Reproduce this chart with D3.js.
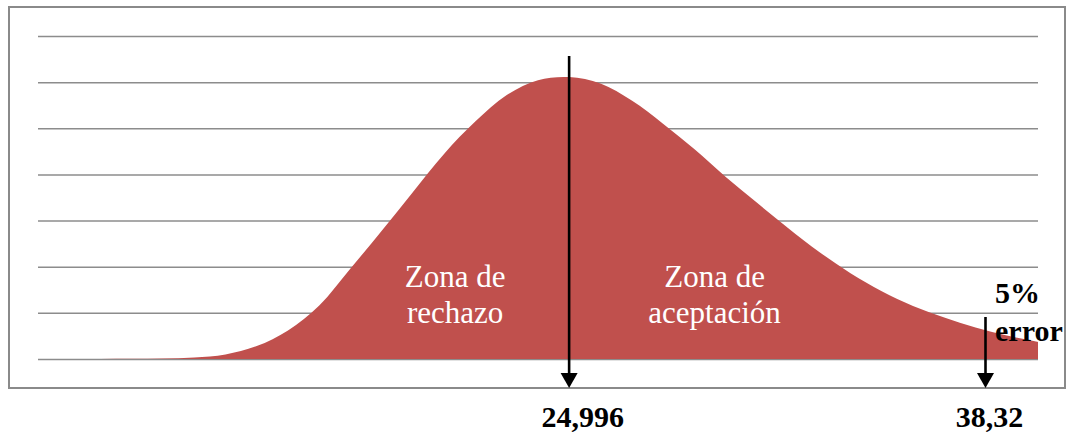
<!DOCTYPE html>
<html>
<head>
<meta charset="utf-8">
<script src="https://cdn.jsdelivr.net/npm/d3@7"></script>
<style>
  html, body { margin: 0; padding: 0; background: #ffffff; }
  svg { display: block; }
</style>
</head>
<body>
<svg id="chart" width="1068" height="434"></svg>
<script>
// Distribution of the test statistic (x) and its density, in gridline units
const xValues = [8, 9, 10, 11, 12, 13, 14, 15, 16, 17, 18, 19, 20, 21, 22, 23, 24,
                 25, 26, 27, 28, 29, 30, 31, 32, 33, 34, 35, 36, 37, 38, 39, 40];
const density = [0, 0, 0, 0.003, 0.01, 0.035, 0.1, 0.28, 0.62, 1.16, 1.96, 2.78, 3.62, 4.45, 5.15, 5.72, 6.04,
                 6.11, 5.97, 5.6, 5.1, 4.55, 3.95, 3.39, 2.84, 2.32, 1.86, 1.47, 1.15, 0.9, 0.68, 0.51, 0.37];
const gridValues = [0, 1, 2, 3, 4, 5, 6, 7];

// Marked values of the statistic
const markers = [
  { value: 24.996, label: "24,996" },
  { value: 38.32, label: "38,32" }
];
const zoneLabels = [
  { at: 21.35, lines: ["Zona de", "rechazo"] },
  { at: 29.65, lines: ["Zona de", "aceptación"] }
];
const errorLabel = ["5%", "error"];

const serif = "'Liberation Serif', 'Times New Roman', Tinos, 'DejaVu Serif', serif";

const svg = d3.select("#chart");
const plot = { left: 38, right: 1038, top: 36, bottom: 359 };

const x = d3.scaleLinear().domain([8, 40]).range([plot.left, plot.right]);
const y = d3.scaleLinear().domain([0, 7]).range([plot.bottom, plot.top]);

// Outer frame
svg.append("rect")
  .attr("x", 9).attr("y", 7)
  .attr("width", 1056).attr("height", 381)
  .attr("fill", "none")
  .attr("stroke", "#8a8a8a")
  .attr("stroke-width", 2);

// Horizontal gridlines
const grid = svg.append("g")
  .attr("transform", `translate(${plot.left},0)`)
  .call(d3.axisLeft(y).tickValues(gridValues).tickSize(-(plot.right - plot.left)).tickFormat(""));
grid.select(".domain").remove();
grid.selectAll(".tick line")
  .attr("stroke", "#8c8c8c")
  .attr("stroke-width", 1.5);

// Density area
const pts = xValues.map((v, i) => ({ x: v, y: density[i] }));
const area = d3.area()
  .x(d => x(d.x))
  .y0(y(0))
  .y1(d => Math.min(y(0), y(d.y)))
  .curve(d3.curveCatmullRom.alpha(0.5));

svg.append("path")
  .datum(pts)
  .attr("d", area)
  .attr("fill", "#C0504D");

// Zone labels
zoneLabels.forEach(z => {
  const t = svg.append("text")
    .attr("x", x(z.at))
    .attr("y", 287)
    .attr("text-anchor", "middle")
    .style("font-family", serif)
    .attr("font-size", 31)
    .attr("fill", "#ffffff");
  z.lines.forEach((line, i) => {
    t.append("tspan")
      .attr("x", x(z.at))
      .attr("dy", i === 0 ? 0 : 36)
      .text(line);
  });
});

// Arrows marking the statistic values
const arrowTops = [56, 317];
markers.forEach((m, i) => {
  const px = x(m.value);
  const tip = 388;
  svg.append("line")
    .attr("x1", px).attr("x2", px)
    .attr("y1", arrowTops[i]).attr("y2", tip - 10)
    .attr("stroke", "#000")
    .attr("stroke-width", 2.6);
  svg.append("path")
    .attr("d", `M${px - 8.5},${tip - 15} L${px + 8.5},${tip - 15} L${px},${tip} Z`)
    .attr("fill", "#000");
});

// Value labels below the frame
const valueOffsets = [13.5, 4];
markers.forEach((m, i) => {
  svg.append("text")
    .attr("x", x(m.value) + valueOffsets[i])
    .attr("y", 427)
    .attr("text-anchor", "middle")
    .style("font-family", serif)
    .attr("font-weight", "bold")
    .attr("font-size", 30)
    .attr("fill", "#000")
    .text(m.label);
});

// Significance label
const err = svg.append("text")
  .attr("x", 995)
  .attr("y", 303)
  .style("font-family", serif)
  .attr("font-weight", "bold")
  .attr("font-size", 30)
  .attr("fill", "#000");
errorLabel.forEach((line, i) => {
  err.append("tspan").attr("x", 995).attr("dy", i === 0 ? 0 : 38).text(line);
});
</script>
</body>
</html>
